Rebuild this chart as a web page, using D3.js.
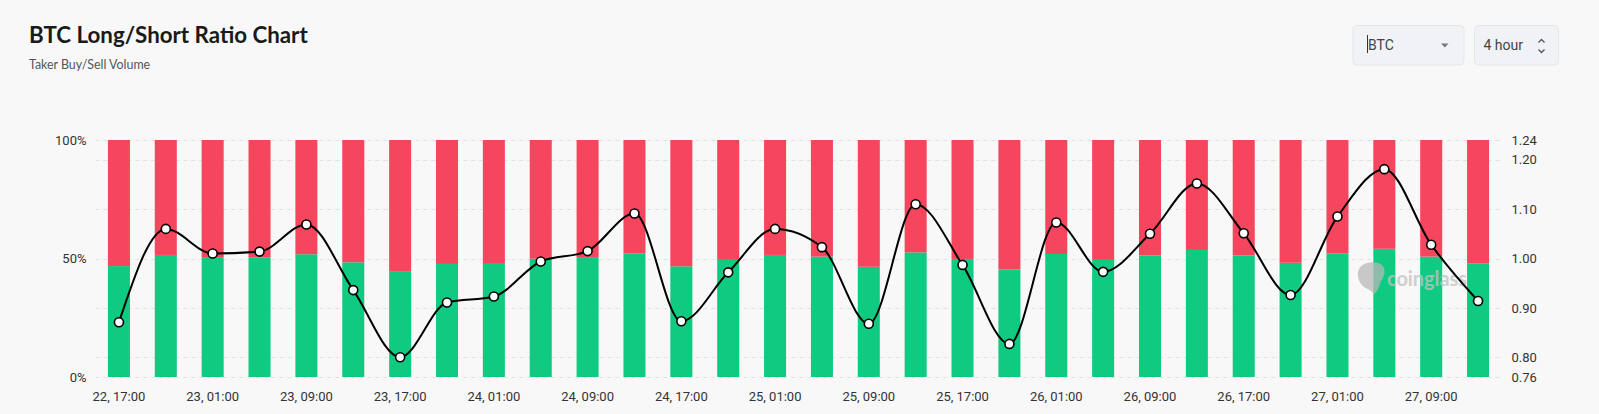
<!DOCTYPE html>
<html>
<head>
<meta charset="utf-8">
<script src="https://cdn.jsdelivr.net/npm/d3@7/dist/d3.min.js"></script>
<style>
  html, body { margin: 0; padding: 0; background: #f8f8f8; }
  svg { display: block; }
</style>
</head>
<body>
<svg id="chart" width="1599" height="414"></svg>
<script>
// ---- data ----
const categories = [
  "22, 17:00","22, 21:00",
  "23, 01:00","23, 05:00","23, 09:00","23, 13:00","23, 17:00","23, 21:00",
  "24, 01:00","24, 05:00","24, 09:00","24, 13:00","24, 17:00","24, 21:00",
  "25, 01:00","25, 05:00","25, 09:00","25, 13:00","25, 17:00","25, 21:00",
  "26, 01:00","26, 05:00","26, 09:00","26, 13:00","26, 17:00","26, 21:00",
  "27, 01:00","27, 05:00","27, 09:00","27, 13:00"
];
const longPct = [
  46.8, 51.5, 50.3, 50.5, 51.8, 48.4, 44.4, 47.7, 48.1, 49.9,
  50.6, 52.2, 46.7, 49.4, 51.5, 50.8, 46.5, 52.6, 49.8, 45.4,
  51.9, 49.4, 51.3, 53.6, 51.3, 48.2, 52.1, 54.1, 50.8, 48.0
];
const shortPct = longPct.map(v => 100 - v);
const ratio = [
  0.871, 1.060, 1.010, 1.014, 1.069, 0.936, 0.800, 0.911, 0.923, 0.994,
  1.015, 1.091, 0.873, 0.972, 1.060, 1.023, 0.868, 1.110, 0.987, 0.827,
  1.073, 0.973, 1.050, 1.152, 1.051, 0.926, 1.085, 1.181, 1.028, 0.914
];
const leftTicks = [0, 50, 100];
const rightTicks = [0.76, 0.80, 0.90, 1.00, 1.10, 1.20, 1.24];

// ---- layout ----
const svg = d3.select("#chart");
const plotL = 95.5, plotR = 1501.5, plotT = 140, plotB = 377;
const red = "#f6465d", green = "#0ecb81";

const x = d3.scaleBand().domain(categories).range([plotL, plotR])
  .paddingInner(0.53).paddingOuter(0.265);
const yPct = d3.scaleLinear().domain([0, 100]).range([plotB, plotT]);
const yRatio = d3.scaleLinear().domain([0.76, 1.24]).range([plotB, plotT]);

// header
svg.append("text").attr("x", 29).attr("y", 42.5)
  .attr("font-family", "Lato, 'Open Sans', sans-serif").attr("font-weight", 700)
  .attr("font-size", 22.3).attr("fill", "#1a1a1a").text("BTC Long/Short Ratio Chart");
svg.append("text").attr("x", 29).attr("y", 69)
  .attr("font-family", "Lato, 'Open Sans', sans-serif")
  .attr("font-size", 12.4).attr("fill", "#555").text("Taker Buy/Sell Volume");

// controls
const ctrl = svg.append("g");
const boxes = [{x: 1353, w: 111}, {x: 1474.5, w: 84}];
boxes.forEach(b => {
  ctrl.append("rect").attr("x", b.x).attr("y", 25.5).attr("width", b.w).attr("height", 39.5)
    .attr("rx", 4).attr("fill", "#f0f2f5").attr("stroke", "#e4e6ea").attr("stroke-width", 1);
});
ctrl.append("line").attr("x1", 1367.5).attr("x2", 1367.5).attr("y1", 35).attr("y2", 53)
  .attr("stroke", "#333").attr("stroke-width", 1);
ctrl.append("text").attr("x", 1368).attr("y", 50)
  .attr("font-family", "Roboto, sans-serif").attr("font-size", 14).attr("fill", "#444").text("BTC");
ctrl.append("path").attr("d", "M1441,43.5 L1448.5,43.5 L1444.75,47.5 Z").attr("fill", "#777");
ctrl.append("text").attr("x", 1483.5).attr("y", 50)
  .attr("font-family", "Roboto, sans-serif").attr("font-size", 14).attr("fill", "#444").text("4 hour");
ctrl.append("path").attr("d", "M1538.5,42.5 L1541.5,39.5 L1544.5,42.5 M1538.5,49.5 L1541.5,52.5 L1544.5,49.5")
  .attr("fill", "none").attr("stroke", "#555").attr("stroke-width", 1.3);

// grid
svg.append("g").selectAll("line").data(rightTicks).join("line")
  .attr("x1", plotL).attr("x2", plotR)
  .attr("y1", d => Math.round(yRatio(d)) + 0.5).attr("y2", d => Math.round(yRatio(d)) + 0.5)
  .attr("stroke", "#e3e3e3").attr("stroke-dasharray", "4,4");

// bars
const bars = svg.append("g");
bars.selectAll("rect.long").data(categories).join("rect").attr("class", "long")
  .attr("x", d => x(d)).attr("width", x.bandwidth())
  .attr("y", (d, i) => yPct(longPct[i])).attr("height", (d, i) => yPct(0) - yPct(longPct[i]))
  .attr("fill", green);
bars.selectAll("rect.short").data(categories).join("rect").attr("class", "short")
  .attr("x", d => x(d)).attr("width", x.bandwidth())
  .attr("y", (d, i) => yPct(longPct[i] + shortPct[i])).attr("height", (d, i) => yPct(longPct[i]) - yPct(longPct[i] + shortPct[i]))
  .attr("fill", red);

// watermark (over bars)
const wm = svg.append("g").attr("opacity", 0.75);
wm.append("path")
  .attr("d", "M1359,269 C1362,262 1376,260 1382,265 C1386,269 1385,276 1381,281 C1379,286 1378,291 1374,294 C1371,290 1367,289 1364,287 C1359,283 1356,275 1359,269 Z")
  .attr("fill", "#b8b8b8");
wm.append("text").attr("x", 1387).attr("y", 286)
  .attr("font-family", "Lato, sans-serif").attr("font-weight", 700).attr("font-size", 20)
  .attr("fill", "#c2c2c2").attr("textLength", 80).text("coinglass");

// line
const cx = (d, i) => x(categories[i]) + x.bandwidth() / 2;
const line = d3.line().x((d, i) => cx(d, i)).y(d => yRatio(d)).curve(d3.curveMonotoneX);
svg.append("path").datum(ratio).attr("d", line)
  .attr("fill", "none").attr("stroke", "#000").attr("stroke-width", 2);
svg.append("g").selectAll("circle").data(ratio).join("circle")
  .attr("cx", (d, i) => cx(d, i)).attr("cy", d => yRatio(d)).attr("r", 4.5)
  .attr("fill", "#fff").attr("stroke", "#000").attr("stroke-width", 1.6);

// axes
const axisFont = "Roboto, sans-serif";
const leftAxis = svg.append("g").attr("transform", `translate(${plotL - 9},0)`)
  .call(d3.axisLeft(yPct).tickValues(leftTicks).tickFormat(d => d + "%").tickSize(0).tickPadding(0));
const rightAxis = svg.append("g").attr("transform", `translate(${plotR + 10},0)`)
  .call(d3.axisRight(yRatio).tickValues(rightTicks).tickFormat(d3.format(".2f")).tickSize(0).tickPadding(0));
const bottomAxis = svg.append("g").attr("transform", `translate(0,${plotB})`)
  .call(d3.axisBottom(x).tickValues(categories.filter((d, i) => i % 2 === 0)).tickSize(0).tickPadding(15));
[leftAxis, rightAxis, bottomAxis].forEach(a => {
  a.select(".domain").remove();
  a.selectAll("text").attr("font-family", axisFont).attr("font-size", 13).attr("fill", "#333");
});
</script>
</body>
</html>
